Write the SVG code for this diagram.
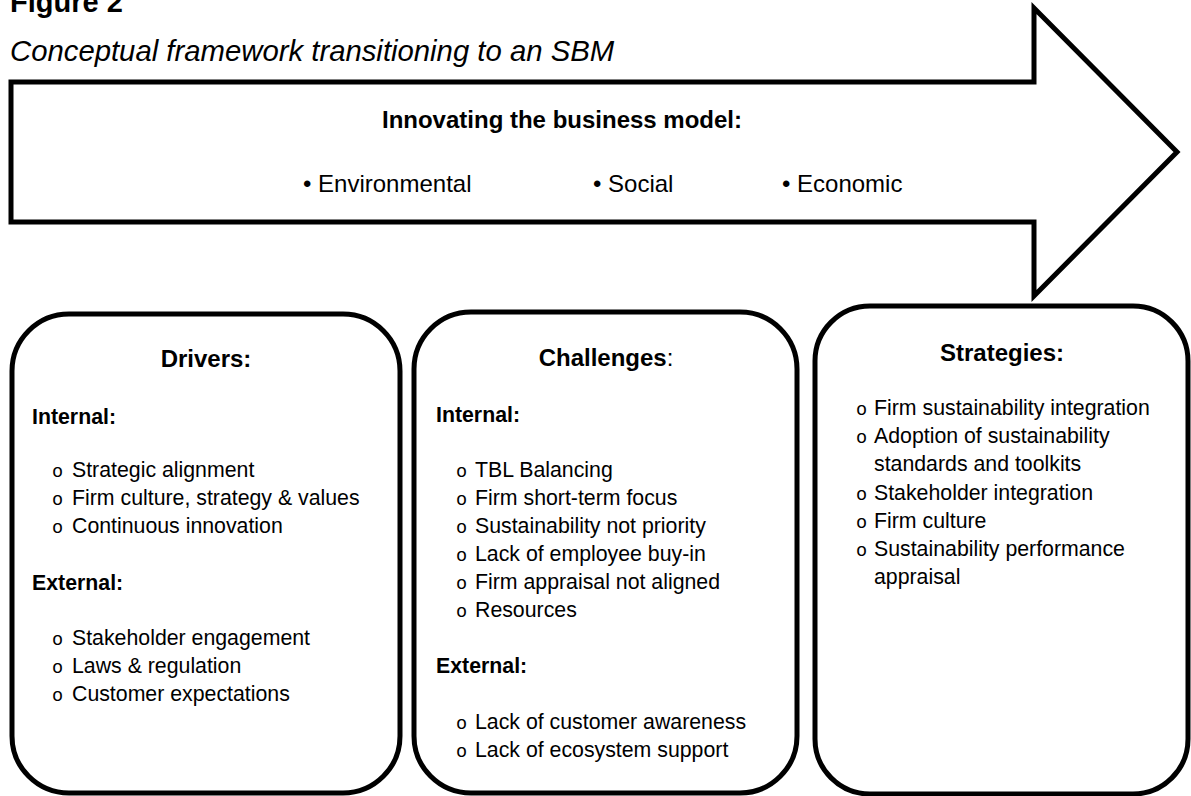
<svg xmlns="http://www.w3.org/2000/svg" width="1191" height="796" viewBox="0 0 1191 796">
  <style>
    .shape { fill: #ffffff; stroke: #000000; stroke-width: 5; stroke-linejoin: miter; }
    .box { fill: #ffffff; stroke: #000000; stroke-width: 5; }
    text { font-family: "Liberation Sans", Arial, sans-serif; fill: #000000; }
    .fig { font-size: 29px; font-weight: bold; }
    .cap { font-size: 29.3px; font-style: italic; }
    .big { font-size: 24px; }
    .head { font-size: 24px; font-weight: bold; }
    .sub { font-size: 21.3px; font-weight: bold; }
    .item { font-size: 21.3px; }
    .o { font-family: "Liberation Mono", "Courier New", monospace; font-size: 18.5px; }
  </style>

  <rect width="1191" height="796" fill="#ffffff"/>

  <!-- caption -->
  <text class="fig" x="10" y="12">Figure 2</text>
  <text class="cap" x="10" y="61">Conceptual framework transitioning to an SBM</text>

  <!-- big block arrow -->
  <g id="arrow">
    <polygon class="shape" points="11,82 1034,82 1034,8 1177,152 1034,296 1034,222 11,222"/>
    <text class="big" x="562" y="128" text-anchor="middle" font-weight="bold">Innovating the business model:</text>
    <text class="big" x="303" y="192">• Environmental</text>
    <text class="big" x="593" y="192">• Social</text>
    <text class="big" x="782" y="192">• Economic</text>
  </g>

  <g id="connectors"></g>

  <!-- Drivers -->
  <g id="drivers">
    <rect class="box" x="12" y="314" width="388" height="479" rx="57" ry="57"/>
    <text class="head" x="206" y="367" text-anchor="middle">Drivers:</text>
    <text class="sub" x="32" y="424">Internal:</text>
    <text class="o" x="52" y="477">o</text><text class="item" x="72" y="477">Strategic alignment</text>
    <text class="o" x="52" y="505">o</text><text class="item" x="72" y="505">Firm culture, strategy &amp; values</text>
    <text class="o" x="52" y="533">o</text><text class="item" x="72" y="533">Continuous innovation</text>
    <text class="sub" x="32" y="590">External:</text>
    <text class="o" x="52" y="645">o</text><text class="item" x="72" y="645">Stakeholder engagement</text>
    <text class="o" x="52" y="673">o</text><text class="item" x="72" y="673">Laws &amp; regulation</text>
    <text class="o" x="52" y="701">o</text><text class="item" x="72" y="701">Customer expectations</text>
  </g>

  <!-- Challenges -->
  <g id="challenges">
    <rect class="box" x="414" y="312" width="383" height="481" rx="57" ry="57"/>
    <text class="head" x="606" y="366" text-anchor="middle">Challenges<tspan font-weight="normal">:</tspan></text>
    <text class="sub" x="436" y="422">Internal:</text>
    <text class="o" x="456" y="477">o</text><text class="item" x="475" y="477">TBL Balancing</text>
    <text class="o" x="456" y="505">o</text><text class="item" x="475" y="505">Firm short-term focus</text>
    <text class="o" x="456" y="533">o</text><text class="item" x="475" y="533">Sustainability not priority</text>
    <text class="o" x="456" y="561">o</text><text class="item" x="475" y="561">Lack of employee buy-in</text>
    <text class="o" x="456" y="589">o</text><text class="item" x="475" y="589">Firm appraisal not aligned</text>
    <text class="o" x="456" y="617">o</text><text class="item" x="475" y="617">Resources</text>
    <text class="sub" x="436" y="673">External:</text>
    <text class="o" x="456" y="729">o</text><text class="item" x="475" y="729">Lack of customer awareness</text>
    <text class="o" x="456" y="757">o</text><text class="item" x="475" y="757">Lack of ecosystem support</text>
  </g>

  <!-- Strategies -->
  <g id="strategies">
    <rect class="box" x="815" y="306" width="373" height="488" rx="55" ry="55"/>
    <text class="head" x="1002" y="361" text-anchor="middle">Strategies:</text>
    <text class="o" x="856" y="415">o</text><text class="item" x="874" y="415">Firm sustainability integration</text>
    <text class="o" x="856" y="443">o</text><text class="item" x="874" y="443">Adoption of sustainability</text>
    <text class="item" x="874" y="471">standards and toolkits</text>
    <text class="o" x="856" y="500">o</text><text class="item" x="874" y="500">Stakeholder integration</text>
    <text class="o" x="856" y="528">o</text><text class="item" x="874" y="528">Firm culture</text>
    <text class="o" x="856" y="556">o</text><text class="item" x="874" y="556">Sustainability performance</text>
    <text class="item" x="874" y="584">appraisal</text>
  </g>
</svg>
